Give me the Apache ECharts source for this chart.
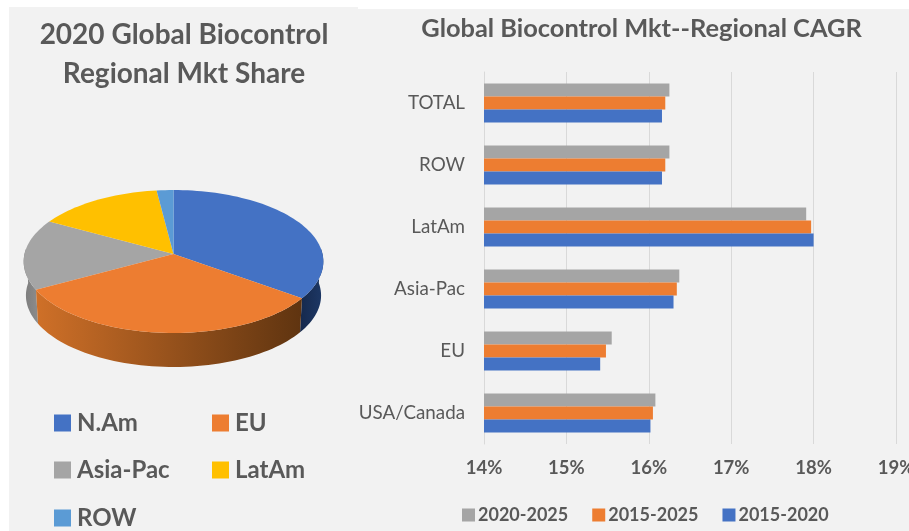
<!DOCTYPE html>
<html>
<head>
<meta charset="utf-8">
<style>html,body{margin:0;padding:0;background:#fff}#chart{width:909px;height:531px}</style>
<script src="https://cdn.jsdelivr.net/npm/echarts@6/dist/echarts.min.js"></script>
</head>
<body>
<div id="chart"></div>
<script>
// Market share by region, 2020 (percent)
const regions = ['N.Am', 'EU', 'Asia-Pac', 'LatAm', 'ROW'];
const shares = [35, 32, 16, 15, 2];
const regionColors = ['#4472c4', '#ed7d31', '#a5a5a5', '#ffc000', '#5b9bd5'];

// Regional CAGR (percent), listed bottom to top
const cagrCategories = ['USA/Canada', 'EU', 'Asia-Pac', 'LatAm', 'ROW', 'TOTAL'];
const cagr2015to2020 = [16.02, 15.41, 16.30, 18.00, 16.16, 16.16];
const cagr2015to2025 = [16.05, 15.48, 16.34, 17.97, 16.20, 16.20];
const cagr2020to2025 = [16.08, 15.55, 16.37, 17.91, 16.25, 16.25];

const textColor = '#595959';
const fontFamily = 'Lato';

// Tilted-disc projection of the pie
const disc = { cx: 173.5, cy: 254, a: 149, b: 70.7, k: 0.105, depth: 34 };

function rimPoint(deg, drop) {
  const t = deg * Math.PI / 180;
  const u = Math.sin(t), v = -Math.cos(t);
  const w = 1 - disc.k * v;
  const shrink = drop ? 0.985 : 1;
  return [
    disc.cx + shrink * disc.a * u / w,
    disc.cy + disc.b * v / w + (drop ? disc.depth : 0)
  ];
}

function arcPoints(from, to, drop) {
  const steps = Math.max(2, Math.ceil(Math.abs(to - from) / 2));
  const pts = [];
  for (let i = 0; i <= steps; i++) pts.push(rimPoint(from + (to - from) * i / steps, drop));
  return pts;
}

// Wall shading per slice: [left edge, right edge]
const wallFills = [
  ['#16294d', '#1d3866'],
  ['#cf7028', '#5f3410'],
  ['#7c7c7c', '#8c8c8c'],
  ['#b38600', '#b38600'],
  ['#3f6f99', '#3f6f99']
];

function sliceRenderer(index) {
  return function (params, api) {
    const total = shares.reduce((s, x) => s + x, 0);
    const before = shares.slice(0, index).reduce((s, x) => s + x, 0);
    const start = before / total * 360;
    const end = start + api.value(0) / total * 360;
    const children = [];

    // Outer wall, only on the near half of the disc
    const wallFrom = Math.max(start, 86);
    const wallTo = Math.min(end, 274);
    if (wallTo > wallFrom) {
      const upper = arcPoints(wallFrom, wallTo, false);
      const lower = arcPoints(wallTo, wallFrom, true);
      children.push({
        type: 'polygon',
        z2: 1,
        shape: { points: upper.concat(lower) },
        style: {
          fill: {
            type: 'linear', x: 0, y: 0, x2: 1, y2: 0,
            colorStops: [
              { offset: 0, color: wallFills[index][0] },
              { offset: 1, color: wallFills[index][1] }
            ]
          }
        }
      });
    }

    // Top face
    children.push({
      type: 'polygon',
      z2: 2,
      shape: { points: [[disc.cx, disc.cy]].concat(arcPoints(start, end, false)) },
      style: { fill: regionColors[index] }
    });
    return { type: 'group', children };
  };
}

const sliceSeries = regions.map((name, i) => ({
  name,
  type: 'custom',
  coordinateSystem: 'none',
  silent: true,
  z: i === 1 ? 4 : 3,
  itemStyle: { color: regionColors[i] },
  renderItem: sliceRenderer(i),
  data: [[shares[i]]]
}));

// The first series sits at the top of each category band
const barSeries = [
  ['2020-2025', cagr2020to2025, '#a5a5a5'],
  ['2015-2025', cagr2015to2025, '#ed7d31'],
  ['2015-2020', cagr2015to2020, '#4472c4']
].map(([name, data, color]) => ({
  name,
  type: 'bar',
  barWidth: 13,
  barGap: '0%',
  itemStyle: { color },
  data
}));

const pieLegend = (left, top, names) => ({
  left, top,
  orient: 'vertical',
  data: names,
  icon: 'rect',
  itemWidth: 17,
  itemHeight: 17,
  itemGap: 23,
  padding: 0,
  selectedMode: false,
  textStyle: { color: textColor, fontFamily, fontWeight: 'bold', fontSize: 24, padding: [0, 0, 0, 1] }
});

const chart = echarts.init(document.getElementById('chart'), null, { renderer: 'canvas' });
chart.setOption({
  animation: false,
  backgroundColor: '#ffffff',
  graphic: [
    { type: 'rect', z: -10, shape: { x: 9, y: 7, width: 349, height: 524 }, style: { fill: '#f2f2f2' } },
    { type: 'rect', z: -10, shape: { x: 358, y: 9, width: 551, height: 522 }, style: { fill: '#f2f2f2' } }
  ],
  title: [
    {
      text: '2020 Global Biocontrol\nRegional Mkt Share',
      left: 179, top: 10, textAlign: 'center',
      textStyle: { color: textColor, fontFamily, fontWeight: 'bold', fontSize: 28, lineHeight: 39 }
    },
    {
      text: 'Global Biocontrol Mkt--Regional CAGR',
      left: 636.5, top: 11, textAlign: 'center',
      textStyle: { color: textColor, fontFamily, fontWeight: 'bold', fontSize: 25.4 }
    }
  ],
  legend: [
    pieLegend(54, 411, ['N.Am', 'Asia-Pac']),
    pieLegend(54, 506, ['ROW']),
    pieLegend(212, 411, ['EU', 'LatAm']),
    {
      left: 462, top: 506,
      padding: 0,
      data: ['2020-2025', '2015-2025', '2015-2020'],
      icon: 'rect',
      itemWidth: 13,
      itemHeight: 13,
      itemGap: 24,
      selectedMode: false,
      textStyle: { color: textColor, fontFamily, fontWeight: 'bold', fontSize: 18, padding: [0, 0, 0, -2] }
    }
  ],
  grid: { left: 484, right: 13, top: 72, height: 372, outerBoundsMode: 'none' },
  xAxis: {
    type: 'value',
    min: 14, max: 19, interval: 1,
    axisLine: { show: false },
    axisTick: { show: false },
    splitLine: { lineStyle: { color: '#d9d9d9', width: 1 } },
    axisLabel: {
      formatter: '{value}%', margin: 15,
      color: textColor, fontFamily, fontWeight: 'bold', fontSize: 18.5
    }
  },
  yAxis: {
    type: 'category',
    data: cagrCategories,
    axisLine: { lineStyle: { color: '#d9d9d9' } },
    axisTick: { show: false },
    axisLabel: { margin: 19, color: textColor, fontFamily, fontSize: 18.8 }
  },
  series: barSeries.concat(sliceSeries)
});
</script>
</body>
</html>
